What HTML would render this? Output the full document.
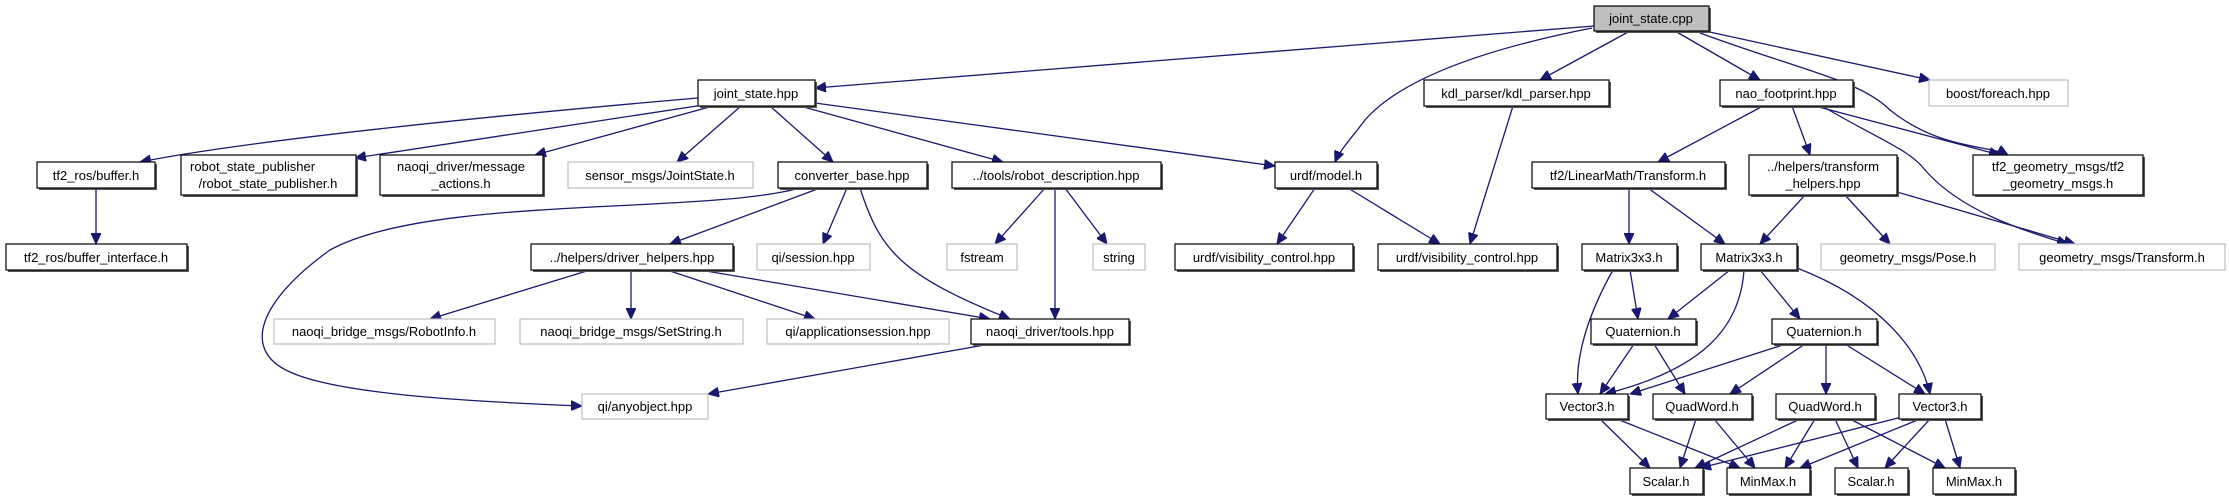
<!DOCTYPE html>
<html><head><meta charset="utf-8"><style>
html,body{margin:0;padding:0;background:#fff;}
svg{display:block;}
text{font-family:"Liberation Sans","DejaVu Sans",sans-serif;font-size:13px;fill:#000;}
.e{fill:none;stroke:#191970;stroke-width:1.3;marker-end:url(#a);}
.b{fill:#fff;stroke:#000;stroke-width:1.2;}
.g{fill:#fff;stroke:#bfbfbf;stroke-width:1.2;}
.s{fill:#555;}
</style></head><body>
<svg width="2229" height="500" viewBox="0 0 2229 500" xmlns="http://www.w3.org/2000/svg">
<defs><marker id="a" markerUnits="userSpaceOnUse" markerWidth="12" markerHeight="10" refX="11" refY="5" orient="auto"><path d="M0,0 L11,5 L0,10 z" fill="#191970" stroke="#191970"/></marker></defs>
<g>
<path class="e" d="M1594,26 L815,88"/>
<path class="e" d="M1592,28 C1480,50 1400,80 1365,120 C1350,140 1340,150 1335,162"/>
<path class="e" d="M1630,31 L1540,80"/>
<path class="e" d="M1675,31 L1760,80"/>
<path class="e" d="M1705,31 L1930,80"/>
<path class="e" d="M1700,33 C1800,70 1860,80 1890,110 C1940,150 1990,145 2008,155"/>
<path class="e" d="M698,98 C500,115 250,140 140,162"/>
<path class="e" d="M710,104 L355,158"/>
<path class="e" d="M713,106 L535,155"/>
<path class="e" d="M741,106 L677,162"/>
<path class="e" d="M770,106 L833,162"/>
<path class="e" d="M800,106 L1003,162"/>
<path class="e" d="M815,103 L1275,166"/>
<path class="e" d="M96,188 L96,244"/>
<path class="e" d="M800,188 C700,215 430,195 330,250 C260,300 240,350 290,372 C340,395 480,402 582,406"/>
<path class="e" d="M820,188 L670,244"/>
<path class="e" d="M847,188 L823,244"/>
<path class="e" d="M860,188 C880,250 900,275 1010,319"/>
<path class="e" d="M1045,188 L995,244"/>
<path class="e" d="M1055,188 L1055,319"/>
<path class="e" d="M1065,188 L1107,244"/>
<path class="e" d="M590,270 L430,319"/>
<path class="e" d="M631,270 L631,319"/>
<path class="e" d="M667,270 L815,319"/>
<path class="e" d="M700,270 L990,319"/>
<path class="e" d="M990,344 L708,394"/>
<path class="e" d="M1315,188 L1277,244"/>
<path class="e" d="M1348,188 L1440,244"/>
<path class="e" d="M1513,106 L1470,244"/>
<path class="e" d="M1763,106 L1658,162"/>
<path class="e" d="M1792,106 L1810,155"/>
<path class="e" d="M1815,106 L2000,155"/>
<path class="e" d="M1822,106 C1880,140 1910,150 1925,170 C1960,210 2020,230 2068,244"/>
<path class="e" d="M1629,188 L1629,244"/>
<path class="e" d="M1648,188 L1725,244"/>
<path class="e" d="M1805,195 L1760,244"/>
<path class="e" d="M1845,195 L1890,244"/>
<path class="e" d="M1897,192 L2075,244"/>
<path class="e" d="M1630,270 L1638,319"/>
<path class="e" d="M1613,270 C1585,320 1575,360 1578,394"/>
<path class="e" d="M1730,270 L1668,319"/>
<path class="e" d="M1744,270 C1740,330 1700,370 1605,394"/>
<path class="e" d="M1760,270 L1800,319"/>
<path class="e" d="M1797,268 C1880,300 1920,350 1930,394"/>
<path class="e" d="M1634,344 L1600,394"/>
<path class="e" d="M1654,344 L1685,394"/>
<path class="e" d="M1786,344 L1630,394"/>
<path class="e" d="M1805,344 L1730,394"/>
<path class="e" d="M1826,344 L1826,394"/>
<path class="e" d="M1845,344 L1925,394"/>
<path class="e" d="M1600,419 L1650,468"/>
<path class="e" d="M1617,419 L1740,468"/>
<path class="e" d="M1696,419 L1680,468"/>
<path class="e" d="M1714,419 L1755,468"/>
<path class="e" d="M1800,419 L1695,468"/>
<path class="e" d="M1815,419 L1785,468"/>
<path class="e" d="M1835,419 L1858,468"/>
<path class="e" d="M1850,419 L1945,468"/>
<path class="e" d="M1902,417 L1700,468"/>
<path class="e" d="M1920,419 L1800,468"/>
<path class="e" d="M1930,419 L1885,468"/>
<path class="e" d="M1945,419 L1960,468"/>
</g>
<!-- root -->
<rect x="1596" y="8" width="115" height="25" class="s"/>
<rect x="1594" y="6" width="115" height="25" fill="#bfbfbf" stroke="#000" stroke-width="1.2"/>
<text x="1651" y="23" text-anchor="middle">joint_state.cpp</text>
<g id="black">
<rect x="700" y="82" width="117" height="26" class="s"/><rect x="698" y="80" width="117" height="26" class="b"/><text x="756" y="98" text-anchor="middle">joint_state.hpp</text>
<rect x="1426" y="82" width="185" height="26" class="s"/><rect x="1424" y="80" width="185" height="26" class="b"/><text x="1516" y="98" text-anchor="middle">kdl_parser/kdl_parser.hpp</text>
<rect x="1722" y="82" width="133" height="26" class="s"/><rect x="1720" y="80" width="133" height="26" class="b"/><text x="1786" y="98" text-anchor="middle">nao_footprint.hpp</text>

<rect x="39" y="164" width="118" height="26" class="s"/><rect x="37" y="162" width="118" height="26" class="b"/><text x="96" y="180" text-anchor="middle">tf2_ros/buffer.h</text>
<rect x="183" y="157" width="175" height="40" class="s"/><rect x="181" y="155" width="175" height="40" class="b"/><text x="190" y="171">robot_state_publisher</text><text x="268" y="188" text-anchor="middle">/robot_state_publisher.h</text>
<rect x="382" y="157" width="163" height="40" class="s"/><rect x="380" y="155" width="163" height="40" class="b"/><text x="461" y="171" text-anchor="middle">naoqi_driver/message</text><text x="461" y="188" text-anchor="middle">_actions.h</text>
<rect x="780" y="164" width="149" height="26" class="s"/><rect x="778" y="162" width="149" height="26" class="b"/><text x="852" y="180" text-anchor="middle">converter_base.hpp</text>
<rect x="954" y="164" width="209" height="26" class="s"/><rect x="952" y="162" width="209" height="26" class="b"/><text x="1056" y="180" text-anchor="middle">../tools/robot_description.hpp</text>
<rect x="1277" y="164" width="102" height="26" class="s"/><rect x="1275" y="162" width="102" height="26" class="b"/><text x="1326" y="180" text-anchor="middle">urdf/model.h</text>
<rect x="1534" y="164" width="193" height="26" class="s"/><rect x="1532" y="162" width="193" height="26" class="b"/><text x="1628" y="180" text-anchor="middle">tf2/LinearMath/Transform.h</text>
<rect x="1751" y="157" width="148" height="40" class="s"/><rect x="1749" y="155" width="148" height="40" class="b"/><text x="1823" y="171" text-anchor="middle">../helpers/transform</text><text x="1823" y="188" text-anchor="middle">_helpers.hpp</text>
<rect x="1975" y="157" width="170" height="40" class="s"/><rect x="1973" y="155" width="170" height="40" class="b"/><text x="2058" y="171" text-anchor="middle">tf2_geometry_msgs/tf2</text><text x="2058" y="188" text-anchor="middle">_geometry_msgs.h</text>

<rect x="8" y="246" width="181" height="26" class="s"/><rect x="6" y="244" width="181" height="26" class="b"/><text x="96" y="262" text-anchor="middle">tf2_ros/buffer_interface.h</text>
<rect x="533" y="246" width="202" height="26" class="s"/><rect x="531" y="244" width="202" height="26" class="b"/><text x="632" y="262" text-anchor="middle">../helpers/driver_helpers.hpp</text>
<rect x="1177" y="246" width="178" height="26" class="s"/><rect x="1175" y="244" width="178" height="26" class="b"/><text x="1264" y="262" text-anchor="middle">urdf/visibility_control.hpp</text>
<rect x="1380" y="246" width="179" height="26" class="s"/><rect x="1378" y="244" width="179" height="26" class="b"/><text x="1467" y="262" text-anchor="middle">urdf/visibility_control.hpp</text>
<rect x="1584" y="246" width="95" height="26" class="s"/><rect x="1582" y="244" width="95" height="26" class="b"/><text x="1629" y="262" text-anchor="middle">Matrix3x3.h</text>
<rect x="1703" y="246" width="96" height="26" class="s"/><rect x="1701" y="244" width="96" height="26" class="b"/><text x="1749" y="262" text-anchor="middle">Matrix3x3.h</text>

<rect x="973" y="321" width="158" height="25" class="s"/><rect x="971" y="319" width="158" height="25" class="b"/><text x="1050" y="336" text-anchor="middle">naoqi_driver/tools.hpp</text>
<rect x="1593" y="321" width="105" height="25" class="s"/><rect x="1591" y="319" width="105" height="25" class="b"/><text x="1643" y="336" text-anchor="middle">Quaternion.h</text>
<rect x="1774" y="321" width="105" height="25" class="s"/><rect x="1772" y="319" width="105" height="25" class="b"/><text x="1824" y="336" text-anchor="middle">Quaternion.h</text>

<rect x="1548" y="396" width="82" height="25" class="s"/><rect x="1546" y="394" width="82" height="25" class="b"/><text x="1587" y="411" text-anchor="middle">Vector3.h</text>
<rect x="1655" y="396" width="99" height="25" class="s"/><rect x="1653" y="394" width="99" height="25" class="b"/><text x="1702" y="411" text-anchor="middle">QuadWord.h</text>
<rect x="1778" y="396" width="99" height="25" class="s"/><rect x="1776" y="394" width="99" height="25" class="b"/><text x="1825" y="411" text-anchor="middle">QuadWord.h</text>
<rect x="1901" y="396" width="82" height="25" class="s"/><rect x="1899" y="394" width="82" height="25" class="b"/><text x="1940" y="411" text-anchor="middle">Vector3.h</text>

<rect x="1632" y="470" width="73" height="26" class="s"/><rect x="1630" y="468" width="73" height="26" class="b"/><text x="1666" y="486" text-anchor="middle">Scalar.h</text>
<rect x="1729" y="470" width="83" height="26" class="s"/><rect x="1727" y="468" width="83" height="26" class="b"/><text x="1768" y="486" text-anchor="middle">MinMax.h</text>
<rect x="1837" y="470" width="73" height="26" class="s"/><rect x="1835" y="468" width="73" height="26" class="b"/><text x="1871" y="486" text-anchor="middle">Scalar.h</text>
<rect x="1935" y="470" width="82" height="26" class="s"/><rect x="1933" y="468" width="82" height="26" class="b"/><text x="1974" y="486" text-anchor="middle">MinMax.h</text>
</g>
<g id="gray">
<rect x="1929" y="80" width="139" height="26" class="g"/><text x="1998" y="98" text-anchor="middle">boost/foreach.hpp</text>
<rect x="568" y="162" width="185" height="26" class="g"/><text x="660" y="180" text-anchor="middle">sensor_msgs/JointState.h</text>
<rect x="757" y="244" width="113" height="26" class="g"/><text x="813" y="262" text-anchor="middle">qi/session.hpp</text>
<rect x="947" y="244" width="70" height="26" class="g"/><text x="982" y="262" text-anchor="middle">fstream</text>
<rect x="1093" y="244" width="52" height="26" class="g"/><text x="1119" y="262" text-anchor="middle">string</text>
<rect x="1821" y="244" width="174" height="26" class="g"/><text x="1908" y="262" text-anchor="middle">geometry_msgs/Pose.h</text>
<rect x="2019" y="244" width="206" height="26" class="g"/><text x="2122" y="262" text-anchor="middle">geometry_msgs/Transform.h</text>
<rect x="274" y="319" width="221" height="25" class="g"/><text x="384" y="336" text-anchor="middle">naoqi_bridge_msgs/RobotInfo.h</text>
<rect x="520" y="319" width="223" height="25" class="g"/><text x="631" y="336" text-anchor="middle">naoqi_bridge_msgs/SetString.h</text>
<rect x="767" y="319" width="182" height="25" class="g"/><text x="858" y="336" text-anchor="middle">qi/applicationsession.hpp</text>
<rect x="582" y="394" width="126" height="25" class="g"/><text x="645" y="411" text-anchor="middle">qi/anyobject.hpp</text>
</g>
</svg>
</body></html>
